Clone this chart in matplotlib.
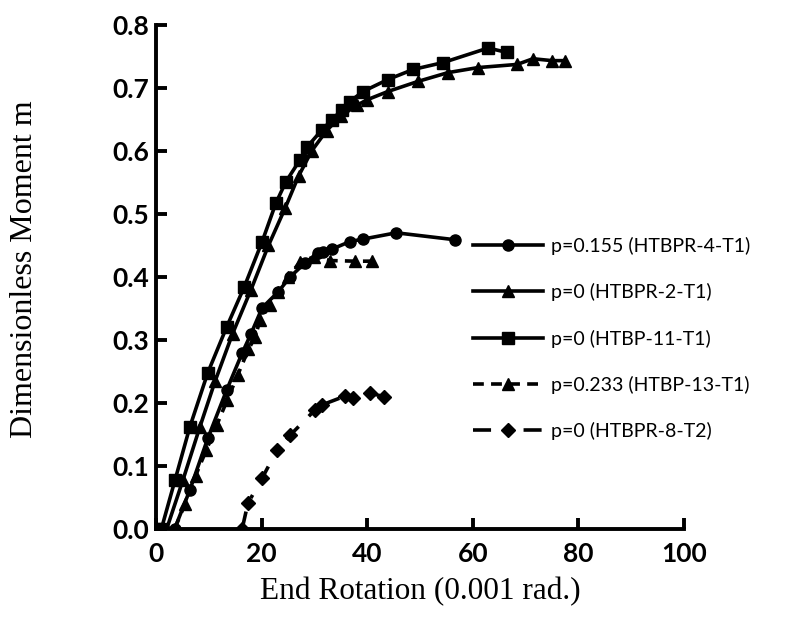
import matplotlib
matplotlib.use("Agg")
import matplotlib.pyplot as plt

# HTBPR-4-T1 (circles, solid)
x_r4 = [3.5, 6.4, 9.8, 13.4, 16.3, 18.0, 20.1, 23.1, 25.4, 28.2, 30.7, 31.6, 33.3, 36.7, 39.2, 45.5, 56.6]
y_r4 = [0.0, 0.062, 0.144, 0.221, 0.279, 0.31, 0.351, 0.376, 0.400, 0.422, 0.438, 0.440, 0.444, 0.456, 0.460, 0.470, 0.459]

# HTBPR-2-T1 (triangles, solid)
x_r2 = [0, 2, 5.1, 8.3, 11.2, 14.5, 18.0, 21.3, 24.5, 27.0, 29.5, 32.3, 35.0, 38.0, 40.0, 43.9, 49.6, 55.3, 61.0, 68.4, 71.4, 75.0, 77.5]
y_r2 = [0, 0, 0.078, 0.162, 0.235, 0.31, 0.38, 0.45, 0.51, 0.56, 0.60, 0.632, 0.655, 0.672, 0.681, 0.694, 0.710, 0.724, 0.732, 0.737, 0.746, 0.743, 0.743]

# HTBP-11-T1 (squares, solid)
x_11 = [0, 1, 3.6, 6.4, 9.8, 13.4, 16.7, 20.1, 22.7, 24.6, 27.3, 28.6, 31.4, 33.3, 35.2, 36.7, 39.2, 43.9, 48.7, 54.4, 62.9, 66.5]
y_11 = [0, 0, 0.078, 0.162, 0.248, 0.321, 0.384, 0.456, 0.517, 0.551, 0.586, 0.606, 0.633, 0.649, 0.665, 0.678, 0.694, 0.713, 0.729, 0.740, 0.763, 0.756]

# HTBP-13-T1 (triangles, dashed)
x_13 = [3.5, 5.5, 7.5, 9.5, 11.5, 13.5, 15.5, 17.5, 18.8, 19.7, 21.5, 23.1, 25.0, 27.3, 30.0, 33.0, 37.7, 40.9]
y_13 = [0.0, 0.04, 0.085, 0.125, 0.165, 0.205, 0.245, 0.285, 0.305, 0.332, 0.355, 0.376, 0.40, 0.424, 0.432, 0.426, 0.425, 0.425]

# HTBPR-8-T2 (diamonds, dash-dot)
x_r8 = [16.3, 17.4, 20.1, 22.9, 25.4, 30.1, 31.4, 35.8, 37.3, 40.5, 43.2]
y_r8 = [0.0, 0.041, 0.081, 0.125, 0.149, 0.189, 0.197, 0.211, 0.208, 0.216, 0.210]

labels = ["p=0.155 (HTBPR-4-T1)", "p=0 (HTBPR-2-T1)", "p=0 (HTBP-11-T1)",
          "p=0.233 (HTBP-13-T1)", "p=0 (HTBPR-8-T2)"]
x_ticks = [0, 20, 40, 60, 80, 100]
y_ticks = [0.0, 0.1, 0.2, 0.3, 0.4, 0.5, 0.6, 0.7, 0.8]

fig = plt.figure(figsize=(7.88, 6.33), dpi=100)
ax = fig.add_axes([0.198, 0.164, 0.670, 0.797])

lw = 2.6
ax.plot(x_r4, y_r4, color="black", lw=lw, marker="o", ms=8, label=labels[0])
ax.plot(x_r2, y_r2, color="black", lw=lw, marker="^", ms=8, label=labels[1])
ax.plot(x_11, y_11, color="black", lw=lw, marker="s", ms=8, label=labels[2])
ax.plot(x_13, y_13, color="black", lw=lw, ls=(0, (3, 2)), marker="^", ms=8, label=labels[3])
ax.plot(x_r8, y_r8, color="black", lw=lw, ls=(0, (5, 4, 1, 4)), marker="D", ms=7, label=labels[4])

ax.set_xlim(0, 100)
ax.set_ylim(0, 0.8)
ax.set_xticks(x_ticks)
ax.set_yticks(y_ticks)
ax.set_xticklabels([str(v) for v in x_ticks])
ax.set_yticklabels([f"{v:.1f}" for v in y_ticks])
ax.spines["top"].set_visible(False)
ax.spines["right"].set_visible(False)
ax.spines["left"].set_linewidth(2.8)
ax.spines["bottom"].set_linewidth(2.8)
ax.tick_params(direction="in", length=8, width=2.8)
ax.tick_params(axis="y", pad=5)
ax.tick_params(axis="x", pad=9)
for t in ax.get_xticklabels() + ax.get_yticklabels():
    t.set_fontfamily("Lato")
    t.set_fontweight("bold")
    t.set_fontsize(19)

ax.set_xlabel("End Rotation (0.001 rad.)", family="Liberation Serif", fontsize=22.5, labelpad=8)
ax.set_ylabel("Dimensionless Moment m", family="Liberation Serif", fontsize=23)
ax.yaxis.set_label_coords(-0.222, 0.515)

leg = ax.legend(loc="center left", bbox_to_anchor=(0.568, 0.378), frameon=False,
                prop={"family": "Lato", "size": 14}, handlelength=3.6,
                numpoints=1, labelspacing=1.45, handletextpad=0.4)

fig.savefig("out.png", dpi=100)
